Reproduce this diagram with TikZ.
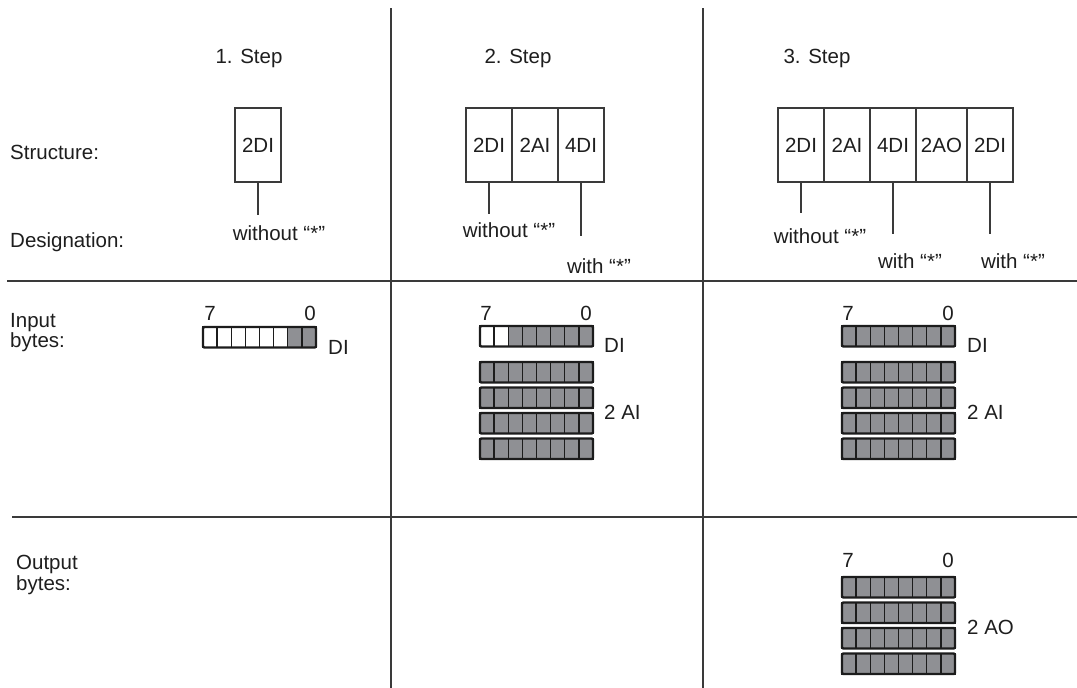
\documentclass[tikz,border=0pt]{standalone}
\usepackage{fontspec}
\setmainfont{Liberation Sans}
\definecolor{linec}{HTML}{3A3A3A}
\definecolor{textc}{HTML}{1E1E1E}
\definecolor{bytegray}{HTML}{8F9094}
\definecolor{bytedark}{HTML}{1C1C1C}
\newcommand{\byterow}[3]{%
  \foreach \i in {0,...,7}{%
    \ifnum\i<#3\relax\def\fc{white}\else\def\fc{bytegray}\fi
    \filldraw[fill=\fc, draw=bytedark, line width=1.4pt] (#1+\i*14.125, #2) rectangle ++(14.125, 20.5);
  }%
  \draw[bytedark, line width=2.2pt, rounded corners=1.2pt] (#1,#2) rectangle ++(113,20.5);
}
\begin{document}
\begin{tikzpicture}[x=1pt, y=-1pt,
  lbl/.style={font=\fontsize{20.5}{19}\selectfont, inner sep=0pt, text=textc},
  cell/.style={draw=linec, line width=1.2pt, minimum height=74pt, inner sep=0pt,
    font=\fontsize{20.5}{19}\selectfont, text=textc},
  stem/.style={draw=linec, line width=1.2pt},
  rule/.style={draw=linec, line width=1.3pt}]
\useasboundingbox (0,0) rectangle (1077,688);

% grid lines
\coordinate (v1t) at (391,8);   \coordinate (v1b) at (391,688);
\coordinate (v2t) at (703,8);   \coordinate (v2b) at (703,688);
\coordinate (h1l) at (7,281);   \coordinate (h1r) at (1077,281);
\coordinate (h2l) at (12,517);  \coordinate (h2r) at (1077,517);
\draw[rule] (v1t) -- (v1b);
\draw[rule] (v2t) -- (v2b);
\draw[rule] (h1l) -- (h1r);
\draw[rule] (h2l) -- (h2r);

% row labels
\node[lbl, anchor=west] (lstruct) at (10,152) {Structure:};
\node[lbl, anchor=west] (ldesig) at (10,242) {Designation:};
\node[lbl, anchor=west, align=left] (linput) at (10,333) {Input\\bytes:};
\node[lbl, anchor=west, align=left] (loutput) at (16,575) {Output\\bytes:};

% step titles
\node[lbl] (st1) at (249,58) {1. Step};
\node[lbl] (st2) at (518,58) {2. Step};
\node[lbl] (st3) at (817,58) {3. Step};

% step 1 structure
\node[cell, minimum width=46pt] (s1a) at (258,145) {2DI};
\coordinate (c1a) at (258,215);
\draw[stem] (s1a.south) -- (c1a);
\node[lbl] (d1a) at (279,233) {without “*”};

% step 2 structure
\node[cell, minimum width=46pt] (s2a) at (489,145) {2DI};
\node[cell, minimum width=46pt] (s2b) at (535,145) {2AI};
\node[cell, minimum width=46pt] (s2c) at (581,145) {4DI};
\coordinate (c2a) at (489,214);
\coordinate (c2c) at (581,236);
\draw[stem] (s2a.south) -- (c2a);
\draw[stem] (s2c.south) -- (c2c);
\node[lbl] (d2a) at (509,230) {without “*”};
\node[lbl] (d2c) at (599,266) {with “*”};

% step 3 structure
\node[cell, minimum width=46pt] (s3a) at (801,145) {2DI};
\node[cell, minimum width=46pt] (s3b) at (847,145) {2AI};
\node[cell, minimum width=46pt] (s3c) at (893,145) {4DI};
\node[cell, minimum width=51pt] (s3d) at (941.5,145) {2AO};
\node[cell, minimum width=46pt] (s3e) at (990,145) {2DI};
\coordinate (c3a) at (801,213);
\coordinate (c3c) at (893,234);
\coordinate (c3e) at (990,234);
\draw[stem] (s3a.south) -- (c3a);
\draw[stem] (s3c.south) -- (c3c);
\draw[stem] (s3e.south) -- (c3e);
\node[lbl] (d3a) at (820,236) {without “*”};
\node[lbl] (d3c) at (910,261) {with “*”};
\node[lbl] (d3e) at (1013,261) {with “*”};

% step 1 input bytes
\node[lbl] (n17) at (210,313) {7};
\node[lbl] (n10) at (310,313) {0};
\byterow{203}{327}{6}
\node[lbl, anchor=west] (di1) at (328,347) {DI};

% step 2 input bytes
\node[lbl] (n27) at (486,313) {7};
\node[lbl] (n20) at (586,313) {0};
\byterow{480}{326}{2}
\byterow{480}{362}{0}
\byterow{480}{387.5}{0}
\byterow{480}{413}{0}
\byterow{480}{438.5}{0}
\node[lbl, anchor=west] (di2) at (604,345) {DI};
\node[lbl, anchor=west] (ai2) at (604,412) {2 AI};

% step 3 input bytes
\node[lbl] (n37) at (848,313) {7};
\node[lbl] (n30) at (948,313) {0};
\byterow{842}{326}{0}
\byterow{842}{362}{0}
\byterow{842}{387.5}{0}
\byterow{842}{413}{0}
\byterow{842}{438.5}{0}
\node[lbl, anchor=west] (di3) at (967,345) {DI};
\node[lbl, anchor=west] (ai3) at (967,412) {2 AI};

% step 3 output bytes
\node[lbl] (o37) at (848,560) {7};
\node[lbl] (o30) at (948,560) {0};
\byterow{842}{577}{0}
\byterow{842}{602.5}{0}
\byterow{842}{628}{0}
\byterow{842}{653.5}{0}
\node[lbl, anchor=west] (ao3) at (967,627) {2 AO};
\end{tikzpicture}
\end{document}
